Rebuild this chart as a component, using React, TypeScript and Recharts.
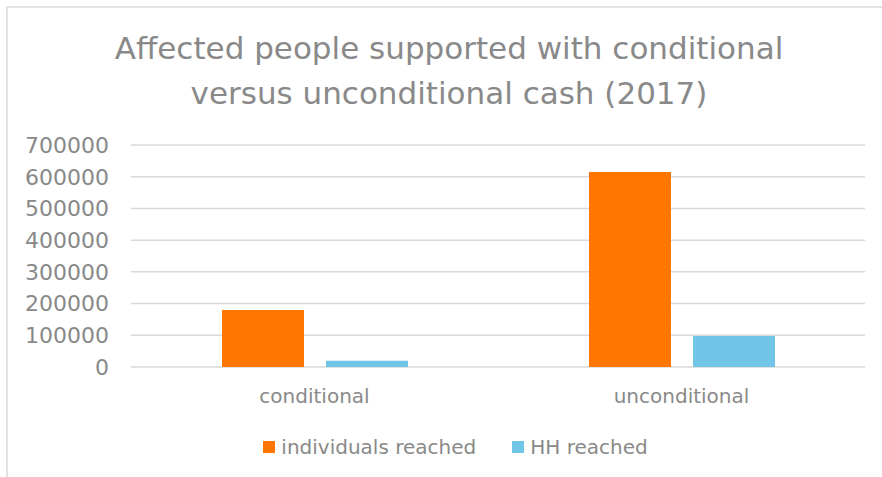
import { BarChart, Bar, XAxis, YAxis, CartesianGrid, Legend } from 'recharts'

const categories = ['conditional', 'unconditional']
const individualsReached = [180000, 615000]
const hhReached = [20000, 98000]
const yTicks = [0, 100000, 200000, 300000, 400000, 500000, 600000, 700000]

const series = [
  { key: 'individuals', name: 'individuals reached', color: '#FF7700', values: individualsReached },
  { key: 'hh', name: 'HH reached', color: '#71C5E6', values: hhReached },
]

const data = categories.map((c, i) => ({
  category: c,
  individuals: individualsReached[i],
  hh: hhReached[i],
}))

const textColor = '#898989'
const font = '"DejaVu Sans", sans-serif'

function LegendContent() {
  return (
    <div style={{ display: 'flex', justifyContent: 'center', alignItems: 'center', fontFamily: font, fontSize: 20, color: textColor }}>
      {series.map((s, i) => (
        <div key={s.key} style={{ display: 'flex', alignItems: 'center', marginLeft: i ? 36 : 0 }}>
          <span style={{ width: 12, height: 12, background: s.color, display: 'inline-block', marginRight: 6 }} />
          <span>{s.name}</span>
        </div>
      ))}
    </div>
  )
}

export default function App() {
  return (
    <div style={{ position: 'absolute', left: 0, top: 0, width: 882, height: 477, overflow: 'hidden', background: '#fff' }}>
      <div style={{ position: 'absolute', left: 6, top: 6, width: 900, height: 500, border: '2px solid #e2e2e2' }} />
      <div
        style={{
          position: 'absolute',
          left: 0,
          top: 26,
          width: 898,
          textAlign: 'center',
          fontFamily: font,
          fontSize: 31,
          lineHeight: '45px',
          color: textColor,
        }}
      >
        Affected people supported with conditional
        <br />
        versus unconditional cash (2017)
      </div>
      <div style={{ position: 'absolute', left: 0, top: 0 }}>
        <BarChart
          width={882}
          height={477}
          data={data}
          margin={{ top: 145, right: 17, left: 0, bottom: 70 }}
          barSize={82}
          barGap={22}
        >
          <CartesianGrid vertical={false} stroke="#d9d9d9" strokeWidth={1.5} />
          <XAxis
            dataKey="category"
            axisLine={false}
            tickLine={false}
            tickSize={0}
            tickMargin={22}
            height={40}
            tick={{ fill: textColor, fontSize: 20, fontFamily: font }}
          />
          <YAxis
            domain={[0, 700000]}
            ticks={yTicks}
            interval={0}
            axisLine={false}
            tickLine={false}
            tickSize={0}
            tickMargin={22}
            width={131}
            tick={{ fill: textColor, fontSize: 22, fontFamily: font }}
          />
          <Legend
            verticalAlign="middle"
            align="center"
            content={() => <LegendContent />}
            wrapperStyle={{ position: 'absolute', top: 435, left: 0, width: 911 }}
          />
          {series.map((s) => (
            <Bar key={s.key} dataKey={s.key} name={s.name} fill={s.color} isAnimationActive={false} />
          ))}
        </BarChart>
      </div>
    </div>
  )
}
